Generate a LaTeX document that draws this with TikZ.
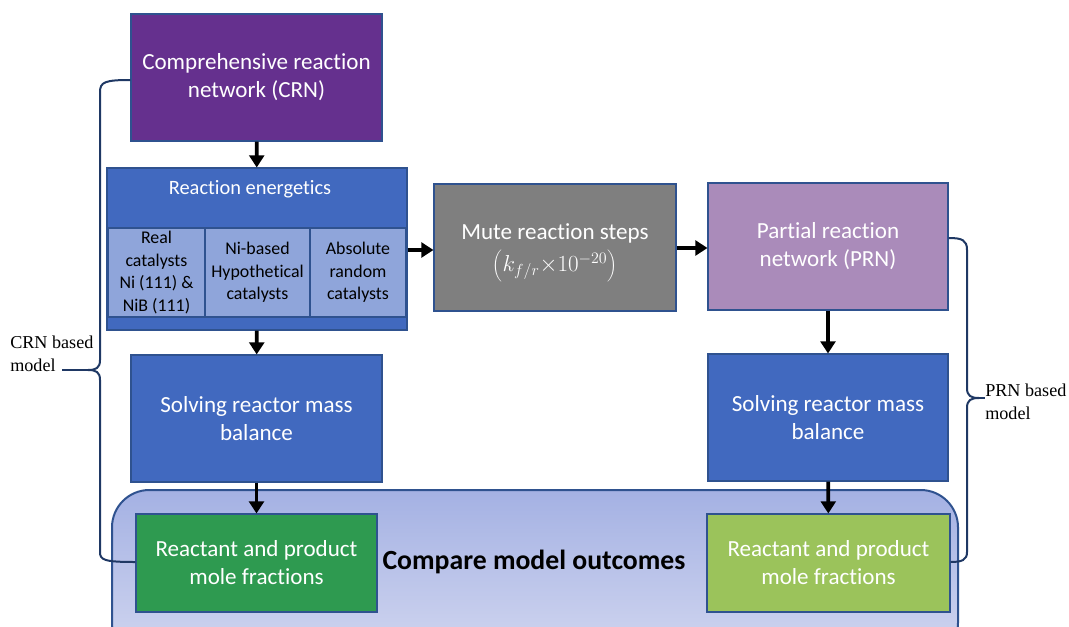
\documentclass[tikz,border=0pt]{standalone}
\usepackage{fontspec}
\setmainfont{Carlito}[Ligatures=NoCommon]
\newfontfamily\serifl{Liberation Serif}
\usetikzlibrary{arrows.meta}
\definecolor{crnpurple}{HTML}{65308E}
\definecolor{reblue}{HTML}{4169BF}
\definecolor{subblue}{HTML}{8FA5DA}
\definecolor{edgeblue}{HTML}{2F528F}
\definecolor{mutegray}{HTML}{7F7F7F}
\definecolor{prnlilac}{HTML}{AA8BBA}
\definecolor{gdark}{HTML}{2E9A50}
\definecolor{glight}{HTML}{9BC35B}
\definecolor{navy}{HTML}{1F3864}
\definecolor{bgtop}{HTML}{A4B1E3}
\definecolor{bgbot}{HTML}{D2D7F0}
\tikzset{
  box/.style={draw=edgeblue, line width=0.8pt, inner sep=0pt, text=white, align=center},
  subbox/.style={box, fill=subblue, text=black, font=\fontsize{13.4}{17}\selectfont},
  bigfont/.style={font=\fontsize{17.3}{21}\selectfont},
  arr/.style={line width=2.8pt, -{Triangle[length=9pt,width=11pt]}},
  brace/.style={draw=navy, line width=1.5pt},
  lbl/.style={font=\serifl\fontsize{13.6}{17}\selectfont, align=left, inner sep=0pt}
}
\begin{document}
\begin{tikzpicture}[x=0.75pt,y=-0.75pt]
\useasboundingbox (0,0) rectangle (1069,627);
\clip (0,0) rectangle (1069,627);
% background rounded panel
\node[draw=edgeblue, line width=1.5pt, rounded corners=28pt, top color=bgtop, bottom color=bgbot,
  minimum width=846*0.75pt, minimum height=170*0.75pt, inner sep=0pt] (panel) at (535,575) {};
% boxes
\node[box, fill=crnpurple, bigfont, minimum width=251*0.75pt, minimum height=127*0.75pt] (crn) at (256.5,77.5) {Comprehensive reaction\\network (CRN)};
\node[box, fill=reblue, minimum width=300*0.75pt, minimum height=162*0.75pt] (re) at (257,249) {};
\node[text=white, font=\fontsize{15.3}{18}\selectfont] (retitle) at (250,189) {Reaction energetics};
\node[subbox, minimum width=97*0.75pt, minimum height=89*0.75pt] (s1) at (156.5,272.5) {Real\\catalysts\\Ni (111) \&\\NiB (111)};
\node[subbox, minimum width=105*0.75pt, minimum height=89*0.75pt] (s2) at (257.5,272.5) {Ni-based\\Hypothetical\\catalysts};
\node[subbox, minimum width=96*0.75pt, minimum height=89*0.75pt] (s3) at (358,272.5) {Absolute\\random\\catalysts};
\node[box, fill=mutegray, minimum width=242*0.75pt, minimum height=127*0.75pt] (mute) at (555,247.5) {};
\node[text=white, bigfont, inner sep=0pt] (mutetxt) at (555,233) {Mute reaction steps};
\node[text=white, bigfont, inner sep=0pt] (mutemath) at (555,266) {$\left(k_{f/r}{\times}10^{-20}\right)$};
\node[box, fill=prnlilac, bigfont, minimum width=240*0.75pt, minimum height=127*0.75pt] (prn) at (828,246.5) {Partial reaction\\network (PRN)};
\node[box, fill=reblue, bigfont, minimum width=251*0.75pt, minimum height=127*0.75pt] (solvel) at (256.5,418.5) {Solving reactor mass\\balance};
\node[box, fill=reblue, bigfont, minimum width=240*0.75pt, minimum height=127*0.75pt] (solver) at (828,417.5) {Solving reactor mass\\balance};
\node[box, fill=gdark, bigfont, minimum width=241*0.75pt, minimum height=98*0.75pt] (gl) at (256.5,563) {Reactant and product\\mole fractions};
\node[box, fill=glight, bigfont, minimum width=243*0.75pt, minimum height=98*0.75pt] (gr) at (828.5,563) {Reactant and product\\mole fractions};
\node[font=\bfseries\fontsize{20.8}{24}\selectfont] (cmp) at (534,562) {Compare model outcomes};
% arrows
\draw[arr] (crn) -- (re);
\draw[arr] (re) -- (solvel);
\draw[arr] (solvel) -- (gl);
\draw[arr] (re.east |- 0,250) -- (mute.west |- 0,250);
\draw[arr] (mute.east |- 0,248) -- (prn.west |- 0,248);
\draw[arr] (prn) -- (solver);
\draw[arr] (solver) -- (gr);
% braces
\coordinate (lt) at (131,80);
\coordinate (lb) at (136,562);
\coordinate (ltip) at (62,370);
\draw[brace] (crn.west |- lt) .. controls (105,80) and (100,82) .. (100,92)
  -- (100,360) .. controls (100,368) and (96,370) .. (88,370)
  .. controls (96,370) and (100,372) .. (100,380)
  -- (100,552) .. controls (100,560) and (104,562) .. (gl.west |- lb);
\draw[brace] (88,370) -- (ltip);
\node[lbl, anchor=north west] (crnlbl) at (10,336) {CRN based\\model};
\coordinate (rt) at (948,238);
\coordinate (rb) at (950,562);
\coordinate (rtip) at (985,398);
\draw[brace] (prn.east |- rt) .. controls (962,238) and (967,240) .. (967,250)
  -- (967,388) .. controls (967,396) and (971,398) .. (979,398)
  .. controls (971,398) and (967,400) .. (967,408)
  -- (967,552) .. controls (967,560) and (962,562) .. (gr.east |- rb);
\draw[brace] (979,398) -- (rtip);
\node[lbl, anchor=north west] (prnlbl) at (985,384) {PRN based\\model};
\end{tikzpicture}
\end{document}
